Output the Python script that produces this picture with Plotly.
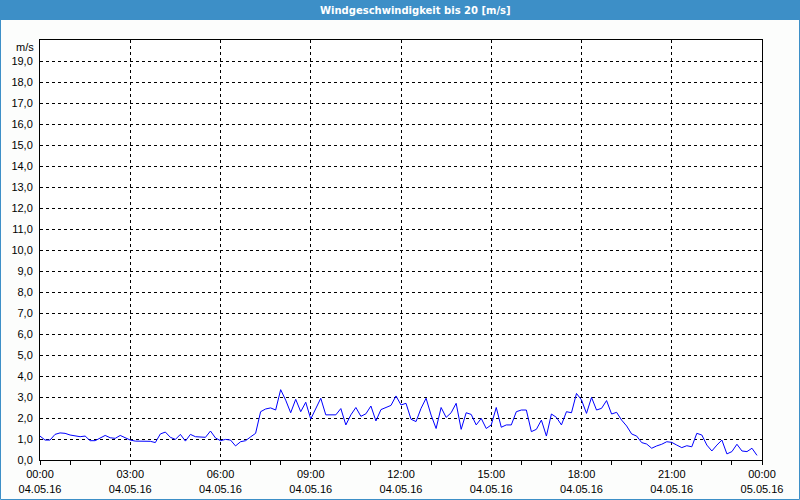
import plotly.graph_objects as go
import pandas as pd

# ---- data ----
start_time = "2016-05-04 00:00"
sample_interval = "10min"
wind_speed = [
    1.14, 0.95, 0.95, 1.22, 1.29, 1.27, 1.19, 1.16, 1.11, 1.14, 0.92, 0.92,
    1.03, 1.17, 1.06, 1.03, 1.17, 1.06, 0.95, 0.90, 0.90, 0.90, 0.89, 0.83,
    1.24, 1.33, 1.08, 0.98, 1.22, 0.90, 1.22, 1.11, 1.11, 1.08, 1.38, 1.05,
    0.92, 0.98, 0.95, 0.67, 0.87, 0.92, 1.10, 1.27, 2.30, 2.43, 2.48, 2.38,
    3.35, 2.85, 2.25, 2.89, 2.30, 2.75, 1.95, 2.45, 2.94, 2.15, 2.15, 2.15,
    2.45, 1.67, 2.15, 2.50, 2.08, 2.20, 2.57, 1.86, 2.40, 2.50, 2.60, 3.05,
    2.62, 2.70, 1.94, 1.83, 2.46, 2.94, 2.14, 1.50, 2.50, 2.03, 2.25, 2.70,
    1.46, 2.25, 2.17, 1.67, 1.98, 1.50, 1.67, 2.50, 1.56, 1.67, 1.67, 2.30,
    2.38, 2.38, 1.35, 1.46, 1.90, 1.14, 2.19, 2.03, 1.67, 2.30, 2.25, 3.17,
    2.86, 2.22, 2.98, 2.38, 2.46, 2.83, 2.19, 2.27, 1.90, 1.62, 1.24, 1.14,
    0.83, 0.76, 0.56, 0.67, 0.75, 0.87, 0.84, 0.71, 0.59, 0.68, 0.63, 1.27,
    1.19, 0.71, 0.43, 0.71, 0.95, 0.29, 0.40, 0.75, 0.43, 0.40, 0.56, 0.22,
]
times = pd.date_range(start_time, periods=len(wind_speed), freq=sample_interval)

x_tick_times = [
    "2016-05-04 00:00", "2016-05-04 03:00", "2016-05-04 06:00",
    "2016-05-04 09:00", "2016-05-04 12:00", "2016-05-04 15:00",
    "2016-05-04 18:00", "2016-05-04 21:00", "2016-05-05 00:00",
]
x_tick_text = [
    "00:00<br>04.05.16", "03:00<br>04.05.16", "06:00<br>04.05.16",
    "09:00<br>04.05.16", "12:00<br>04.05.16", "15:00<br>04.05.16",
    "18:00<br>04.05.16", "21:00<br>04.05.16", "00:00<br>05.05.16",
]
y_tick_vals = [0, 1, 2, 3, 4, 5, 6, 7, 8, 9, 10, 11, 12, 13, 14, 15, 16, 17, 18, 19]
y_tick_text = ["0,0", "1,0", "2,0", "3,0", "4,0", "5,0", "6,0", "7,0", "8,0", "9,0",
               "10,0", "11,0", "12,0", "13,0", "14,0", "15,0", "16,0", "17,0", "18,0", "19,0"]
title_text = "Windgeschwindigkeit bis 20 [m/s]"
unit_text = "m/s"

# ---- layout geometry ----
W, H = 800, 500
ML, MR, MT, MB = 40, 38, 40, 40
PW, PH = W - ML - MR, H - MT - MB

def px_x(p):
    return (p - ML) / PW

def px_y(p):
    return 1 - (p - MT) / PH

FONT = "Liberation Sans"
BAR = "#3d8fc7"

fig = go.Figure()
fig.add_trace(go.Scatter(
    x=times, y=wind_speed, mode="lines",
    line=dict(color="#0000ff", width=1),
    hoverinfo="skip", showlegend=False,
))

fig.update_layout(
    width=W, height=H,
    margin=dict(l=ML, r=MR, t=MT, b=MB, pad=0, autoexpand=False),
    paper_bgcolor="#fcfdfc",
    plot_bgcolor="#ffffff",
    font=dict(family=FONT, size=11, color="#000000"),
    showlegend=False,
    xaxis=dict(
        type="date", automargin=False,
        range=[x_tick_times[0], x_tick_times[-1]],
        tickmode="array", tickvals=x_tick_times, ticktext=x_tick_text,
        showgrid=True, gridcolor="#000000", gridwidth=1, griddash="3px,3px",
        showline=True, linecolor="#000000", linewidth=1, mirror=True,
        ticks="outside", ticklen=4, tickcolor="#000000",
        minor=dict(dtick=3600000, ticks="outside", ticklen=4, tickcolor="#000000", showgrid=False),
        zeroline=False, fixedrange=True,
        tickfont=dict(family=FONT, size=11, color="#000000"),
    ),
    yaxis=dict(
        range=[0, 20], automargin=False,
        tickmode="array", tickvals=y_tick_vals, ticktext=y_tick_text,
        showgrid=True, gridcolor="#000000", gridwidth=1, griddash="3px,3px",
        showline=True, linecolor="#000000", linewidth=1, mirror=True,
        ticks="", ticklabelstandoff=4,
        zeroline=False, fixedrange=True,
        tickfont=dict(family=FONT, size=11, color="#000000"),
    ),
    shapes=[
        dict(type="rect", xref="paper", yref="paper",
             x0=px_x(0), x1=px_x(W), y0=px_y(20), y1=px_y(0),
             fillcolor=BAR, line=dict(width=0), layer="above"),
        dict(type="rect", xref="paper", yref="paper",
             x0=px_x(0.5), x1=px_x(W - 0.5), y0=px_y(H - 0.5), y1=px_y(0.5),
             fillcolor="rgba(0,0,0,0)", line=dict(color=BAR, width=1), layer="above"),
    ],
    annotations=[
        dict(text="<b>" + title_text + "</b>", xref="paper", yref="paper",
             x=px_x(415), y=px_y(10), xanchor="center", yanchor="middle",
             showarrow=False, font=dict(family="DejaVu Sans", size=10, color="#ffffff")),
        dict(text=unit_text, xref="paper", yref="paper",
             x=px_x(36), y=px_y(47), xanchor="right", yanchor="middle",
             showarrow=False, font=dict(family=FONT, size=11, color="#000000")),
    ],
)

fig.write_html("out.html", config={"displayModeBar": False},
               post_script="document.body.style.margin='0px';")
